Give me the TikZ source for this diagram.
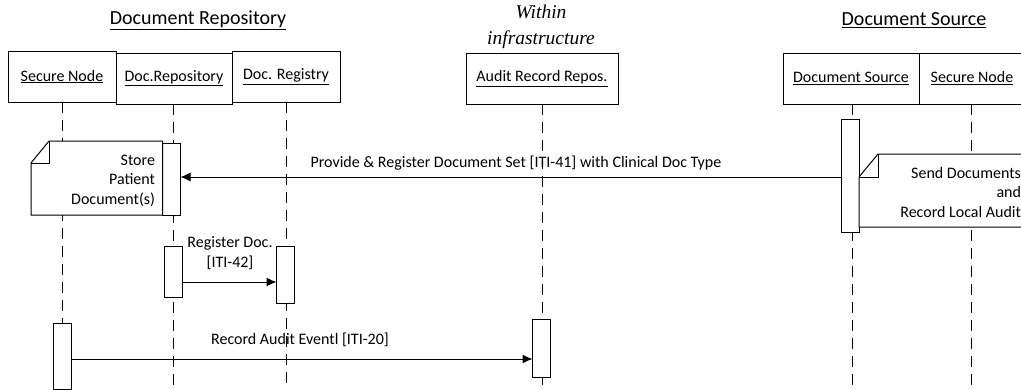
\documentclass[tikz,border=0pt]{standalone}
\usepackage{fontspec}
\setmainfont{Carlito}
\newfontfamily\tnr{Liberation Serif}
\usetikzlibrary{arrows.meta}
\begin{document}
\begin{tikzpicture}[x=1pt,y=-1pt,
  every node/.style={inner sep=0pt,outer sep=0pt},
  hdr/.style={draw,line width=1pt,fill=white,font=\fontsize{16}{19}\selectfont},
  title/.style={font=\fontsize{20}{24}\selectfont},
  life/.style={line width=1pt,dash pattern=on 11pt off 7pt},
  act/.style={draw,line width=1pt,fill=white,minimum width=18pt},
  note/.style={draw,line width=1pt,fill=white},
  notetxt/.style={align=right,font=\fontsize{16}{19.5}\selectfont},
  msg/.style={line width=1pt,-{Latex[length=10pt,width=9pt]}},
  lbl/.style={font=\fontsize{16}{19.5}\selectfont}]
\useasboundingbox (0,0) rectangle (1021,389);
\clip (0,0) rectangle (1021,389);

% titles
\node[title] (t1) at (198,20) {\underline{Document Repository}};
\node[title] (t3) at (914,20) {\underline{Document Source}};
\node[align=center,font=\tnr\itshape\fontsize{19.5}{26}\selectfont] (t2) at (541,27) {Within\\infrastructure};

% header boxes
\node[hdr,minimum width=108pt,minimum height=51pt] (sn1) at (62,76.5) {\underline{Secure Node}};
\node[hdr,minimum width=116pt,minimum height=51pt] (rep) at (174,78.5) {\underline{Doc.Repository}};
\node[hdr,minimum width=108pt,minimum height=51pt] (reg) at (286,76.5) {\underline{Doc. Registry}};
\node[hdr,minimum width=152pt,minimum height=51pt] (aud) at (542,78.5) {\underline{Audit Record Repos.}};
\node[hdr,minimum width=136pt,minimum height=51pt] (src) at (851,78.5) {\underline{Document Source}};
\node[hdr,minimum width=106pt,minimum height=51pt] (sn2) at (972,78.5) {\underline{Secure Node}};

% lifeline ends
\coordinate (e1) at (62,389);
\coordinate (e2) at (173,389);
\coordinate (e3) at (286,389);
\coordinate (e4) at (542,389);
\coordinate (e5) at (852,389);
\coordinate (e6) at (971,389);
\draw[life] (sn1.south -| e1) -- (e1);
\draw[life] (rep.south -| e2) -- (e2);
\draw[life] (reg.south -| e3) -- (e3);
\draw[life] (aud.south -| e4) -- (e4);
\draw[life] (src.south -| e5) -- (e5);
\draw[life] (sn2.south -| e6) -- (e6);

% activations
\node[act,minimum height=113pt] (dsact) at (850,175.5) {};
\node[act,minimum height=72pt] (repact1) at (171.5,179) {};
\node[act,minimum height=51pt] (repact2) at (173,271.5) {};
\node[act,minimum height=57pt] (regact) at (285.5,274.5) {};
\node[act,minimum height=66pt] (snact) at (62,356) {};
\node[act,minimum height=58pt] (audact) at (541.5,348) {};

% left note
\draw[note] (49,141) -- (repact1.west |- 0,141) -- (repact1.south west) -- (31,215) -- (31,163) -- cycle;
\draw[line width=1pt] (49,141) -- (49,163) -- (31,163);
\node[notetxt,anchor=north east] (n1) at (155,155) {Store\\Patient\\Document(s)};

% right note
\draw[note] (878,154) -- (1030,154) -- (1030,227) -- (dsact.east |- 0,227) -- (dsact.east |- 0,177) -- cycle;
\draw[line width=1pt] (878,154) -- (878,177) -- (dsact.east |- 0,177);
\node[notetxt,anchor=north east] (n2) at (1021,167) {Send Documents\\and\\Record Local Audit};

% messages
\draw[msg] (dsact.west |- 0,177) -- (repact1.east |- 0,177);
\node[lbl] (l1) at (516,163) {Provide \& Register Document Set [ITI-41] with Clinical Doc Type};
\draw[msg] (repact2.east |- 0,282) -- (regact.west |- 0,282);
\node[lbl,align=center] (l2) at (230,253) {Register Doc.\\{[ITI-42]}};
\draw[msg] (snact.east |- 0,359) -- (audact.west |- 0,359);
\node[lbl] (l3) at (300,340) {Record Audit Eventl [ITI-20]};
\end{tikzpicture}
\end{document}
